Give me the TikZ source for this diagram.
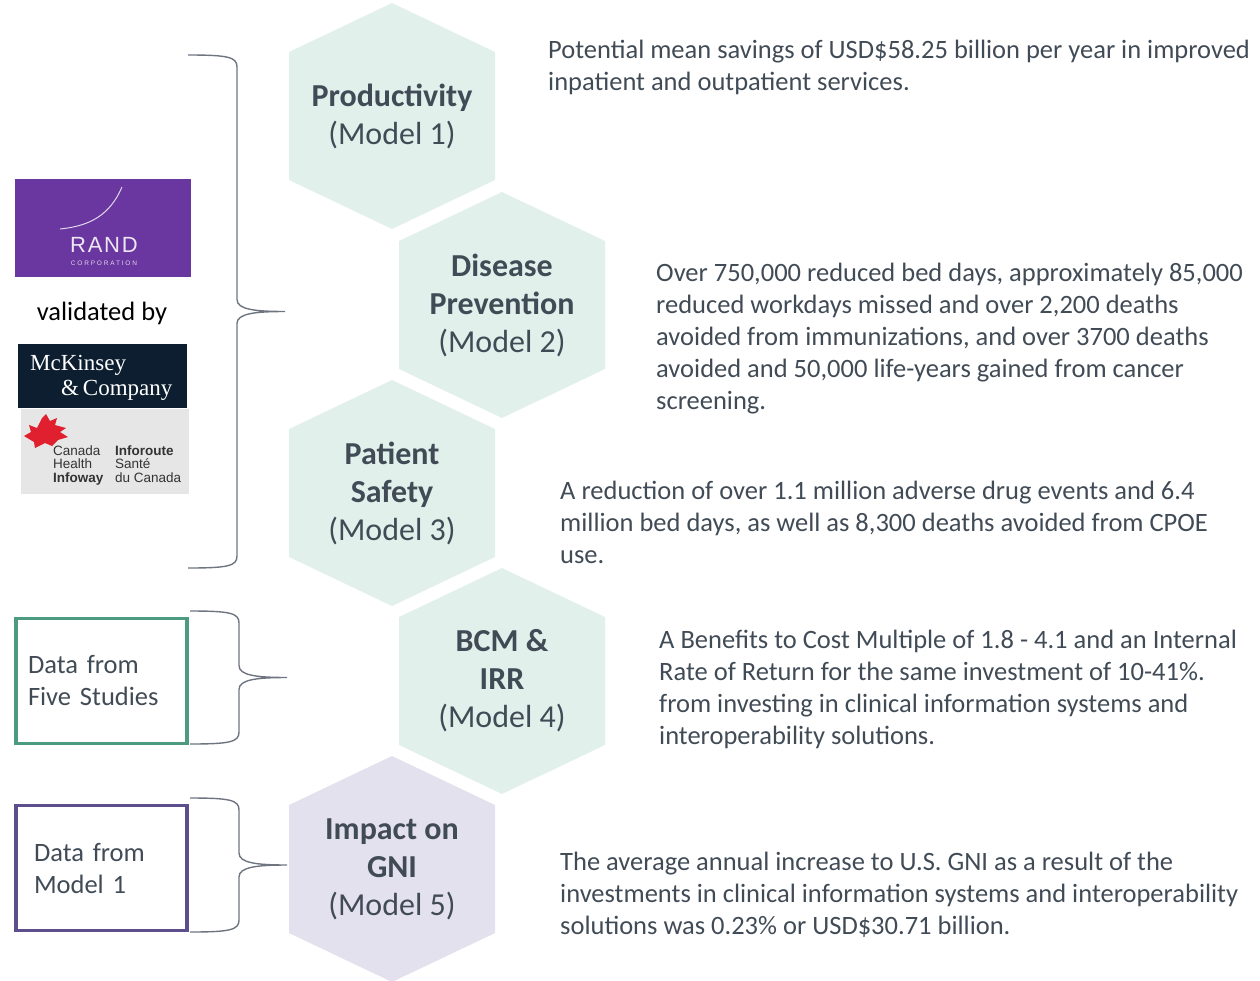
\documentclass[tikz,border=0pt]{standalone}
\usepackage{fontspec}
\setmainfont{Carlito}
\newfontfamily\logoserif{Liberation Serif}
\newfontfamily\logosans{Liberation Sans}
\usetikzlibrary{positioning}
\definecolor{ink}{HTML}{414B56}
\definecolor{mint}{HTML}{E2F0EB}
\definecolor{lilac}{HTML}{E4E1EE}
\definecolor{bracegray}{HTML}{6E7581}
\definecolor{studygreen}{HTML}{4C9A80}
\definecolor{modelpurple}{HTML}{5E4F8C}
\definecolor{randpurple}{HTML}{6A36A0}
\definecolor{mckblue}{HTML}{0C1E2F}
\definecolor{infogray}{HTML}{E6E6E6}
\definecolor{leafred}{HTML}{E0202E}
\tikzset{
    hextext/.style={
        align=center, inner sep=0pt,
        text=ink, font=\fontsize{32}{38}\selectfont\bfseries
    },
    desc/.style={
        align=left, inner sep=0pt, anchor=base west,
        text=ink, font=\fontsize{26.5}{32}\selectfont
    },
    databox/.style={
        draw=#1, line width=3.5pt,
        minimum width=171pt, minimum height=125pt,
        inner ysep=0pt, align=left,
        text=ink, font=\fontsize{26.5}{32}\selectfont
    },
    logobox/.style={
        anchor=north west, inner sep=0pt, fill=#1
    },
    infotext/.style={
        text=black!80, inner sep=0pt, anchor=base west, align=left,
        font=\logosans\fontsize{13.5}{13.5}\selectfont
    },
    bracket/.style={
        draw=bracegray, line width=1.4pt
    }
}
\newcommand{\curlybr}[4]{%
    \pgfmathsetmacro\bx{#1+49}
    \pgfmathsetmacro\my{(#2+#3)/2}
    \coordinate (#4) at (#1+97,\my);
    \draw[bracket] (#1,#2) .. controls +(40,0) and +(0,-10) .. (\bx,#2+12)
        -- (\bx,\my-12) .. controls +(0,10) and +(-30,0) .. (#4)
        .. controls +(-30,0) and +(0,-10) .. (\bx,\my+12)
        -- (\bx,#3-12) .. controls +(0,10) and +(40,0) .. (#1,#3);
}

\begin{document}
\begin{tikzpicture}[x=1pt,y=-1pt]
    \useasboundingbox (0,0) rectangle (1260,980);

    \foreach \nm/\cx/\cy/\col/\ttl/\num in {
        prod/392/116/mint/{Productivity}/1,
        prev/502/305/mint/{Disease\\Prevention}/2,
        safe/392/493/mint/{Patient\\Safety}/3,
        bcm/502/681/mint/{BCM \&\\IRR}/4,
        gni/392/869/lilac/{Impact on\\GNI}/5}{
        \fill[\col] (\cx,\cy) +(0,-113) -- +(103,-64) -- +(103,64) -- +(0,113)
            -- +(-103,64) -- +(-103,-64) -- cycle;
        \node[hextext] (\nm) at (\cx,\cy) {\ttl\\\mdseries(Model \num)};
    }

    \node[desc] (prodtxt) at (548,90) {Potential mean savings of USD\$58.25 billion per year in improved\\inpatient and outpatient services.};
    \node[desc] (prevtxt) at (656,409) {Over 750,000 reduced bed days, approximately 85,000\\reduced workdays missed and over 2,200 deaths\\avoided from immunizations, and over 3700 deaths\\avoided and 50,000 life-years gained from cancer\\screening.};
    \node[desc] (safetxt) at (560,563) {A reduction of over 1.1 million adverse drug events and 6.4\\million bed days, as well as 8,300 deaths avoided from CPOE\\use.};
    \node[desc] (bcmtxt) at (659,744) {A Benefits to Cost Multiple of 1.8 - 4.1 and an Internal\\Rate of Return for the same investment of 10-41\%.\\from investing in clinical information systems and\\interoperability solutions.};
    \node[desc] (gnitxt) at (560,934) {The average annual increase to U.S. GNI as a result of the\\investments in clinical information systems and interoperability\\solutions was 0.23\% or USD\$30.71 billion.};

    \node[logobox=randpurple, minimum width=176pt, minimum height=98pt] (rand) at (15,179) {};
    \draw[white!80!randpurple, line width=1pt] (122,187) .. controls (110,215) and (90,226) .. (60,229);
    \node[text=white!88!randpurple, inner sep=0pt, anchor=base, font=\logosans\fontsize{22}{22}\selectfont\addfontfeature{LetterSpace=8}] (randname) at (104,252) {RAND};
    \node[text=white!80!randpurple, inner sep=0pt, anchor=base, font=\logosans\fontsize{6.5}{6.5}\selectfont\addfontfeature{LetterSpace=28}] (randcorp) at (104,265) {CORPORATION};

    \node[font=\fontsize{26.5}{32}\selectfont, inner sep=0pt] (valid) at (102,313) {validated by};

    \node[logobox=mckblue, minimum width=169pt, minimum height=64pt] (mck) at (18,344) {};
    \node[text=white, inner sep=0pt, anchor=base west, font=\logoserif\fontsize{23}{23}\selectfont] (mckname) at (30,370) {McKinsey};
    \node[text=white, inner sep=0pt, anchor=base west, font=\logoserif\fontsize{23}{23}\selectfont] (mckco) at (61,395) {\&\,Company};

    \node[logobox=infogray, minimum width=168pt, minimum height=85pt] (infoway) at (21,409) {};
    \fill[leafred] (24,436) -- (31,432) -- (29,425) -- (37,428) -- (42,418) -- (46,414)
        -- (50,421) -- (57,418) -- (55,425) -- (66,428) -- (60,432) -- (68,437)
        -- (58,440) -- (52,446) -- (45,443) -- (35,448) -- (34,442) -- cycle;
    \node[infotext] (infoen) at (53,482) {Canada\\Health\\\textbf{Infoway}};
    \node[infotext] (infofr) at (115,482) {\textbf{Inforoute}\\Sant\'e\\du Canada};

    \node[databox=studygreen, text width=147pt, inner xsep=12pt] (studies) at (101.5,681) {Data from\\Five Studies};
    \node[databox=modelpurple, text width=135pt, inner xsep=18pt] (model1) at (101.5,868) {Data from\\Model 1\\[6pt]};

    \curlybr{188}{55}{568}{validtip}
    \curlybr{190}{611}{744}{studytip}
    \curlybr{190}{798}{932}{modeltip}
\end{tikzpicture}
\end{document}
